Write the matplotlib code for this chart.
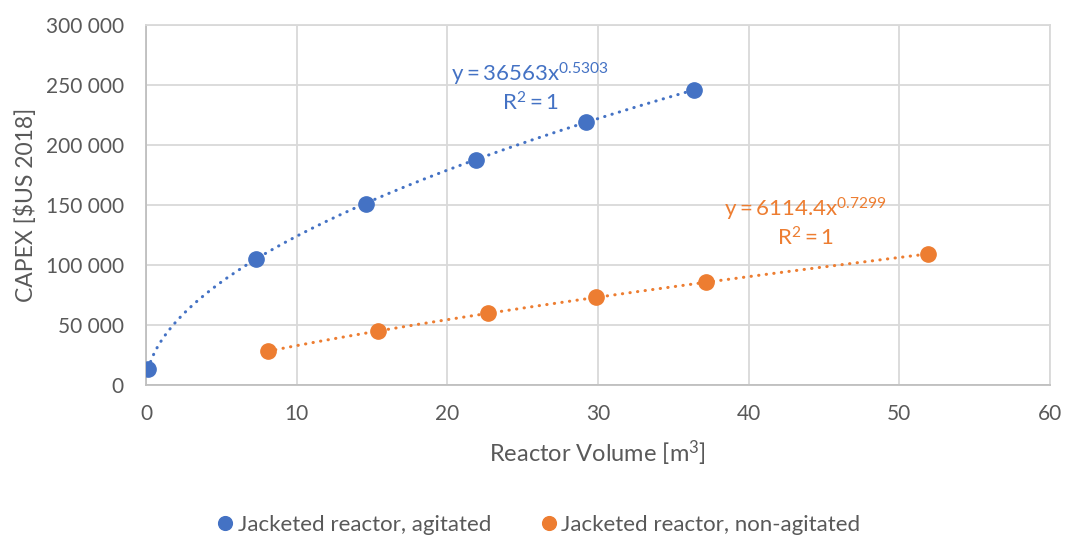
import numpy as np
import matplotlib
matplotlib.use("Agg")
import matplotlib.pyplot as plt
from matplotlib.ticker import FuncFormatter, MultipleLocator

# Reactor volume [m3] and CAPEX [$US 2018]
agitated_volume = [0.15, 7.3, 14.6, 21.9, 29.2, 36.4]
agitated_capex = [13400, 104700, 151000, 187700, 218800, 246000]
nonagitated_volume = [8.1, 15.4, 22.7, 29.9, 37.2, 51.9]
nonagitated_capex = [28300, 45100, 59700, 73000, 85600, 109200]

# Power-law trendline coefficients: y = a * x^b
agitated_fit = (36563, 0.5303)
nonagitated_fit = (6114.4, 0.7299)

series_labels = ["Jacketed reactor, agitated", "Jacketed reactor, non-agitated"]
x_label = r"Reactor Volume [m$\mathregular{^3}$]"
y_label = "CAPEX [$US 2018]"

BLUE = "#4472C4"
ORANGE = "#ED7D31"
GRID = "#D9D9D9"
TEXT = "#595959"

plt.rcParams["font.family"] = ["Lato", "DejaVu Sans"]
plt.rcParams["mathtext.fontset"] = "custom"
plt.rcParams["mathtext.rm"] = "Lato"
plt.rcParams["mathtext.it"] = "Lato"

fig = plt.figure(figsize=(10.68, 5.38), dpi=100)
ax = fig.add_axes([0.1367, 0.2844, 0.8463, 0.6691])


def trend(ax, xs, coef, color):
    a, b = coef
    xx = np.linspace(min(xs), max(xs), 300)
    ax.plot(xx, a * xx ** b, color=color, lw=2.2, linestyle=(0, (0.1, 2.4)),
            dash_capstyle="round", zorder=2)


trend(ax, agitated_volume, agitated_fit, BLUE)
trend(ax, nonagitated_volume, nonagitated_fit, ORANGE)

ax.plot(agitated_volume, agitated_capex, "o", color=BLUE, ms=11,
        label=series_labels[0], zorder=3)
ax.plot(nonagitated_volume, nonagitated_capex, "o", color=ORANGE, ms=11,
        label=series_labels[1], zorder=3)

ax.set_xlim(0, 60)
ax.set_ylim(0, 300000)
ax.xaxis.set_major_locator(MultipleLocator(10))
ax.yaxis.set_major_locator(MultipleLocator(50000))
ax.yaxis.set_major_formatter(FuncFormatter(lambda v, p: f"{int(v):,}".replace(",", " ")))

ax.grid(True, color=GRID, lw=1.3)
ax.set_axisbelow(True)
for side in ["top", "right"]:
    ax.spines[side].set_color(GRID)
    ax.spines[side].set_linewidth(1.3)
for side in ["left", "bottom"]:
    ax.spines[side].set_color("#BFBFBF")
    ax.spines[side].set_linewidth(1.3)

ax.tick_params(axis="both", length=0, labelsize=15, labelcolor=TEXT)
ax.tick_params(axis="x", pad=14)
ax.tick_params(axis="y", pad=16)

ax.set_xlabel(x_label, fontsize=17, color=TEXT, labelpad=10)
ax.set_ylabel(y_label, fontsize=16.5, color=TEXT, labelpad=6)

# Trendline equations
ax.text(25.5, 259000, r"$\mathregular{y = 36563x^{0.5303}}$", color=BLUE,
        fontsize=16, ha="center", va="center")
ax.text(25.5, 235500, r"$\mathregular{R^2 = 1}$", color=BLUE,
        fontsize=16, ha="center", va="center")
ax.text(43.8, 146500, r"$\mathregular{y = 6114.4x^{0.7299}}$", color=ORANGE,
        fontsize=16, ha="center", va="center")
ax.text(43.8, 122500, r"$\mathregular{R^2 = 1}$", color=ORANGE,
        fontsize=16, ha="center", va="center")

leg = fig.legend(loc="center", bbox_to_anchor=(0.503, 0.025), ncol=2, frameon=False,
                 fontsize=16, handletextpad=0.05, columnspacing=2.1,
                 handlelength=1.0, markerscale=0.9)
for t in leg.get_texts():
    t.set_color(TEXT)

fig.savefig("out.png", dpi=100)
